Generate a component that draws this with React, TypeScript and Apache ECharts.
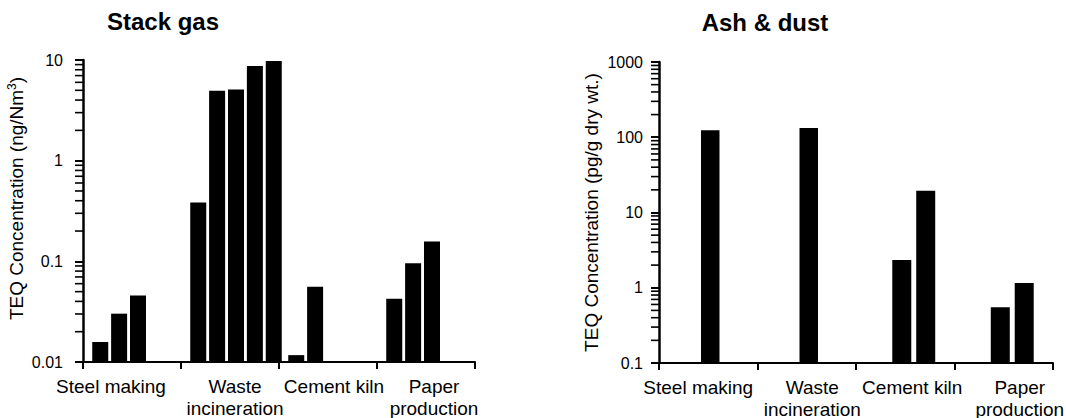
import React, { useEffect, useRef } from 'react';
import * as echarts from 'echarts';

// ---- data ----
const categories = ['Steel making', 'Waste\nincineration', 'Cement kiln', 'Paper\nproduction'];

// Stack gas, TEQ concentration (ng/Nm3) – up to five samples per sector
const gas1 = [0.0158, 0.385, 0.0117, 0.0425];
const gas2 = [0.0302, 4.94, 0.056, 0.0955];
const gas3 = [0.0459, 5.1, null, 0.157];
const gas4 = [null, 8.7, null, null];
const gas5 = [null, 9.8, null, null];

// Ash & dust, TEQ concentration (pg/g dry wt.)
const ashSingle = [124, 133, null, null];
const ashPair1 = [null, null, 2.33, 0.55];
const ashPair2 = [null, null, 19.4, 1.16];

// tick labels
const gasTicks = [0.01, 0.1, 1, 10];
const ashTicks = [0.1, 1, 10, 100, 1000];

const FONT = '"Liberation Sans", Arial, sans-serif';
const TICK_LEN = 8;

// minor tick values (2..9 within each decade) for a log axis
function minorValues(ticks: number[]) {
  const out: number[][] = [];
  for (let i = 0; i < ticks.length - 1; i++) {
    for (let k = 2; k <= 9; k++) out.push([0, +(k * ticks[i]).toPrecision(6)]);
  }
  return out;
}

export default function App() {
  const ref = useRef<HTMLDivElement>(null);

  useEffect(() => {
    if (!ref.current) return;
    const chart = echarts.init(ref.current, undefined, { renderer: 'svg' });

    const L = { left: 83, top: 60, width: 392, height: 302 };
    const R = { left: 659, top: 62, width: 394, height: 301 };

    const labelShiftL = [-21, 5, 6, 8];
    const labelShiftR = [-10, 5.5, 7, 16];
    const makeRich = (shifts: number[]) => {
      const rich: any = {};
      shifts.forEach((s, i) => {
        rich['c' + i] = {
          fontSize: 19,
          fontFamily: FONT,
          color: '#000',
          lineHeight: 22,
          padding: s >= 0 ? [0, 0, 0, 2 * s] : [0, -2 * s, 0, 0],
        };
      });
      return rich;
    };

    const visX = (gridIndex: number, shifts: number[]) => ({
      type: 'category',
      gridIndex,
      data: categories,
      axisLine: { show: true, onZero: false, lineStyle: { color: '#000', width: 2 } },
      axisTick: { show: true, length: 7, lineStyle: { color: '#000', width: 2 } },
      axisLabel: {
        interval: 0,
        margin: 13,
        color: '#000',
        fontSize: 19,
        fontFamily: FONT,
        lineHeight: 22,
        formatter: (v: string, i: number) => `{c${i}|${v}}`,
        rich: makeRich(shifts),
      },
      splitLine: { show: false },
    });

    const hidX = (gridIndex: number) => ({
      type: 'category',
      gridIndex,
      data: categories,
      show: false,
      axisLine: { onZero: false },
    });

    const visY = (gridIndex: number, ticks: number[], name: string, nameGap: number, margin: number, namePad: number[]) => ({
      type: 'log',
      logBase: 10,
      gridIndex,
      min: ticks[0],
      max: ticks[ticks.length - 1],
      position: 'left',
      axisLine: { show: true, onZero: false, lineStyle: { color: '#000', width: 2.5 } },
      axisTick: { show: true, length: TICK_LEN, lineStyle: { color: '#000', width: 2 } },
      axisLabel: {
        color: '#000',
        fontSize: 16,
        fontFamily: FONT,
        margin,
        formatter: (v: number) => String(+Number(v).toPrecision(6)),
      },
      splitLine: { show: false },
      name,
      nameLocation: 'middle',
      nameGap,
      nameTextStyle: {
        color: '#000',
        fontSize: 19,
        fontFamily: FONT,
        lineHeight: 22,
        padding: namePad,
        rich: {
          sup: { fontSize: 12, fontFamily: FONT, color: '#000', verticalAlign: 'top', lineHeight: 12 },
        },
      },
    });

    const hidY = (gridIndex: number, ticks: number[]) => ({
      type: 'log',
      logBase: 10,
      gridIndex,
      min: ticks[0],
      max: ticks[ticks.length - 1],
      startValue: ticks[0],
      show: false,
      axisLine: { onZero: false },
    });

    const bar = (data: any[], xi: number, yi: number, w: number, gap: string) => ({
      type: 'bar',
      xAxisIndex: xi,
      yAxisIndex: yi,
      data,
      barWidth: w,
      barGap: gap,
      itemStyle: { color: '#000' },
      silent: true,
    });

    const minorTicks = (xi: number, yi: number, ticks: number[]) => ({
      type: 'custom',
      xAxisIndex: xi,
      yAxisIndex: yi,
      data: minorValues(ticks),
      encode: { x: 0, y: 1 },
      clip: false,
      z: 5,
      renderItem: (params: any, api: any) => {
        const pt = api.coord([0, api.value(1)]);
        const x0 = params.coordSys.x;
        return {
          type: 'line',
          shape: { x1: x0 - TICK_LEN, y1: pt[1], x2: x0, y2: pt[1] },
          style: { stroke: '#000', lineWidth: 1.6 },
        };
      },
    });

    const g = (r: any, dx: number) => ({
      left: r.left + dx,
      top: r.top,
      width: r.width,
      height: r.height,
      containLabel: false,
      outerBoundsMode: 'none',
    });

    const option: any = {
      animation: false,
      backgroundColor: '#fff',
      textStyle: { fontFamily: FONT },
      grid: [g(L, 0), g(L, 6), g(R, 0), g(R, 2), g(R, 8.5)],
      xAxis: [visX(0, labelShiftL), hidX(1), visX(2, labelShiftR), hidX(3), hidX(4)],
      yAxis: [
        visY(0, gasTicks, 'TEQ Concentration (ng/Nm{sup|3})', 48, 20, [0, 0, 0, 25]),
        hidY(1, gasTicks),
        visY(2, ashTicks, 'TEQ Concentration (pg/g dry wt.)', 57, 16, [0, 0, 0, 0]),
        hidY(3, ashTicks),
        hidY(4, ashTicks),
      ],
      series: [
        minorTicks(0, 0, gasTicks),
        minorTicks(2, 2, ashTicks),
        bar(gas1, 1, 1, 16, '18%'),
        bar(gas2, 1, 1, 16, '18%'),
        bar(gas3, 1, 1, 16, '18%'),
        bar(gas4, 1, 1, 16, '18%'),
        bar(gas5, 1, 1, 16, '18%'),
        bar(ashSingle, 3, 3, 18.5, '30%'),
        bar(ashPair1, 4, 4, 19, '26%'),
        bar(ashPair2, 4, 4, 19, '26%'),
      ],
      graphic: [
        {
          type: 'text',
          x: 163,
          y: 9,
          style: {
            text: 'Stack gas',
            fontSize: 24,
            fontWeight: 'bold',
            fontFamily: FONT,
            fill: '#000',
            align: 'center',
            textAlign: 'center',
            verticalAlign: 'top',
            textVerticalAlign: 'top',
          },
        },
        {
          type: 'text',
          x: 765,
          y: 10,
          style: {
            text: 'Ash & dust',
            fontSize: 24,
            fontWeight: 'bold',
            fontFamily: FONT,
            fill: '#000',
            align: 'center',
            textAlign: 'center',
            verticalAlign: 'top',
            textVerticalAlign: 'top',
          },
        },
      ],
    };

    chart.setOption(option);
    return () => chart.dispose();
  }, []);

  return (
    <div
      ref={ref}
      style={{ position: 'fixed', left: 0, top: 0, width: 1066, height: 418, background: '#fff' }}
    />
  );
}
